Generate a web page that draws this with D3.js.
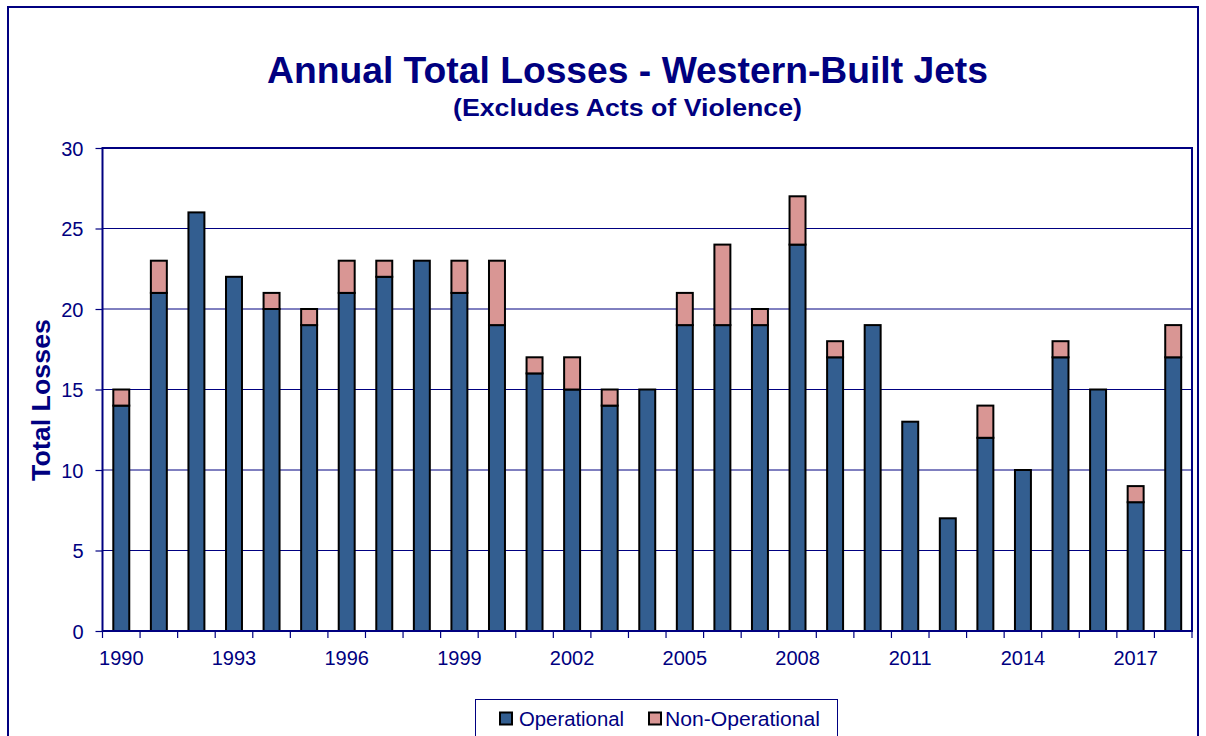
<!DOCTYPE html>
<html><head><meta charset="utf-8">
<script src="https://cdn.jsdelivr.net/npm/d3@7/dist/d3.min.js"></script>
<style>body{margin:0;background:#fff}svg{display:block}text{font-family:"Liberation Sans",Arial,sans-serif}</style>
</head><body>
<script>
const years = d3.range(1990, 2019).map(String);
const operational = [14,21,26,22,20,19,21,22,23,21,19,16,15,14,15,19,19,19,24,17,19,13,7,12,10,17,15,8,17];
const nonOperational = [1,2,0,0,1,1,2,1,0,2,4,1,2,1,0,2,5,1,3,1,0,0,0,2,0,1,0,1,2];
const yTicks = [0,5,10,15,20,25,30];
const xLabels = ["1990","1993","1996","1999","2002","2005","2008","2011","2014","2017"];
const seriesNames = ["Operational","Non-Operational"];
const colors = ["#335e90","#d99694"];
const navy = "#000080";

const W = 1206, H = 736;
const svg = d3.select("body").append("svg").attr("width", W).attr("height", H);

svg.append("rect").attr("x", 8).attr("y", 7).attr("width", 1190).attr("height", 760)
  .attr("fill", "none").attr("stroke", navy).attr("stroke-width", 2);

const m = {l: 102.5, r: 1192, t: 148, b: 631};
const x = d3.scaleBand().domain(years).range([m.l, m.r]).paddingInner(0.575).paddingOuter(0.2875);
const xb = d3.scaleBand().domain(years).range([m.l, m.r]);
const y = d3.scaleLinear().domain([0, 30]).range([m.b, m.t]);

// gridlines
svg.append("g").selectAll("line").data(yTicks.filter(d => d > 0 && d < 30)).join("line")
  .attr("x1", m.l).attr("x2", m.r).attr("y1", d => y(d)).attr("y2", d => y(d))
  .attr("stroke", navy).attr("stroke-width", 1);

// bars
const rows = years.map((yr, i) => ({yr, op: operational[i], non: nonOperational[i]}));
const stack = d3.stack().keys(["op", "non"])(rows);
stack.forEach((s, si) => {
  svg.append("g").selectAll("rect").data(s.filter(d => d[1] > d[0])).join("rect")
    .attr("x", d => x(d.data.yr)).attr("width", x.bandwidth())
    .attr("y", d => y(d[1])).attr("height", d => y(d[0]) - y(d[1]))
    .attr("fill", colors[si]).attr("stroke", "#000").attr("stroke-width", 2);
});

// plot border
svg.append("rect").attr("x", m.l).attr("y", m.t).attr("width", m.r - m.l).attr("height", m.b - m.t)
  .attr("fill", "none").attr("stroke", navy).attr("stroke-width", 2);

// y axis
const yAxis = svg.append("g").attr("transform", `translate(${m.l},0)`)
  .call(d3.axisLeft(y).tickValues(yTicks).tickSize(7).tickPadding(12));
yAxis.select(".domain").remove();
yAxis.selectAll("line").attr("stroke", navy).attr("stroke-width", 1.2);
yAxis.selectAll("text").attr("fill", navy).style("font-size", "20px").attr("dy", "0.36em");

// x axis
const xAxisG = svg.append("g").attr("transform", `translate(0,${m.b})`);
xAxisG.selectAll("line").data(years.concat(["end"])).join("line")
  .attr("x1", (d, i) => m.l + i * xb.step()).attr("x2", (d, i) => m.l + i * xb.step())
  .attr("y1", 0).attr("y2", 7).attr("stroke", navy).attr("stroke-width", 1.2);
xAxisG.selectAll("text").data(xLabels).join("text")
  .attr("x", d => xb(d) + xb.bandwidth() / 2).attr("y", 34)
  .attr("text-anchor", "middle").attr("fill", navy).style("font-size", "20px").text(d => d);

// titles
svg.append("text").attr("x", 627.5).attr("y", 83).attr("text-anchor", "middle")
  .attr("fill", navy).style("font-size", "37px").style("font-weight", "bold")
  .attr("textLength", 721).attr("lengthAdjust", "spacingAndGlyphs")
  .text("Annual Total Losses - Western-Built Jets");
svg.append("text").attr("x", 627.5).attr("y", 115.5).attr("text-anchor", "middle")
  .attr("fill", navy).style("font-size", "23.5px").style("font-weight", "bold")
  .attr("textLength", 349).attr("lengthAdjust", "spacingAndGlyphs")
  .text("(Excludes Acts of Violence)");
svg.append("text").attr("transform", `translate(50,400) rotate(-90)`)
  .attr("text-anchor", "middle").attr("fill", navy).style("font-size", "25px").style("font-weight", "bold")
  .attr("textLength", 162).attr("lengthAdjust", "spacingAndGlyphs")
  .text("Total Losses");

// legend
const lg = svg.append("g");
lg.append("rect").attr("x", 475.5).attr("y", 699.5).attr("width", 362).attr("height", 60)
  .attr("fill", "#fff").attr("stroke", navy).attr("stroke-width", 1);
const legX = [500, 649];
const legTX = [519, 665];
const legW = [105, 155];
seriesNames.forEach((n, i) => {
  lg.append("rect").attr("x", legX[i]).attr("y", 712.5).attr("width", 12).attr("height", 12)
    .attr("fill", colors[i]).attr("stroke", "#000").attr("stroke-width", 2);
  lg.append("text").attr("x", legTX[i]).attr("y", 726).attr("fill", navy)
    .style("font-size", "20.5px").attr("textLength", legW[i]).attr("lengthAdjust", "spacingAndGlyphs").text(n);
});
</script>
</body></html>
